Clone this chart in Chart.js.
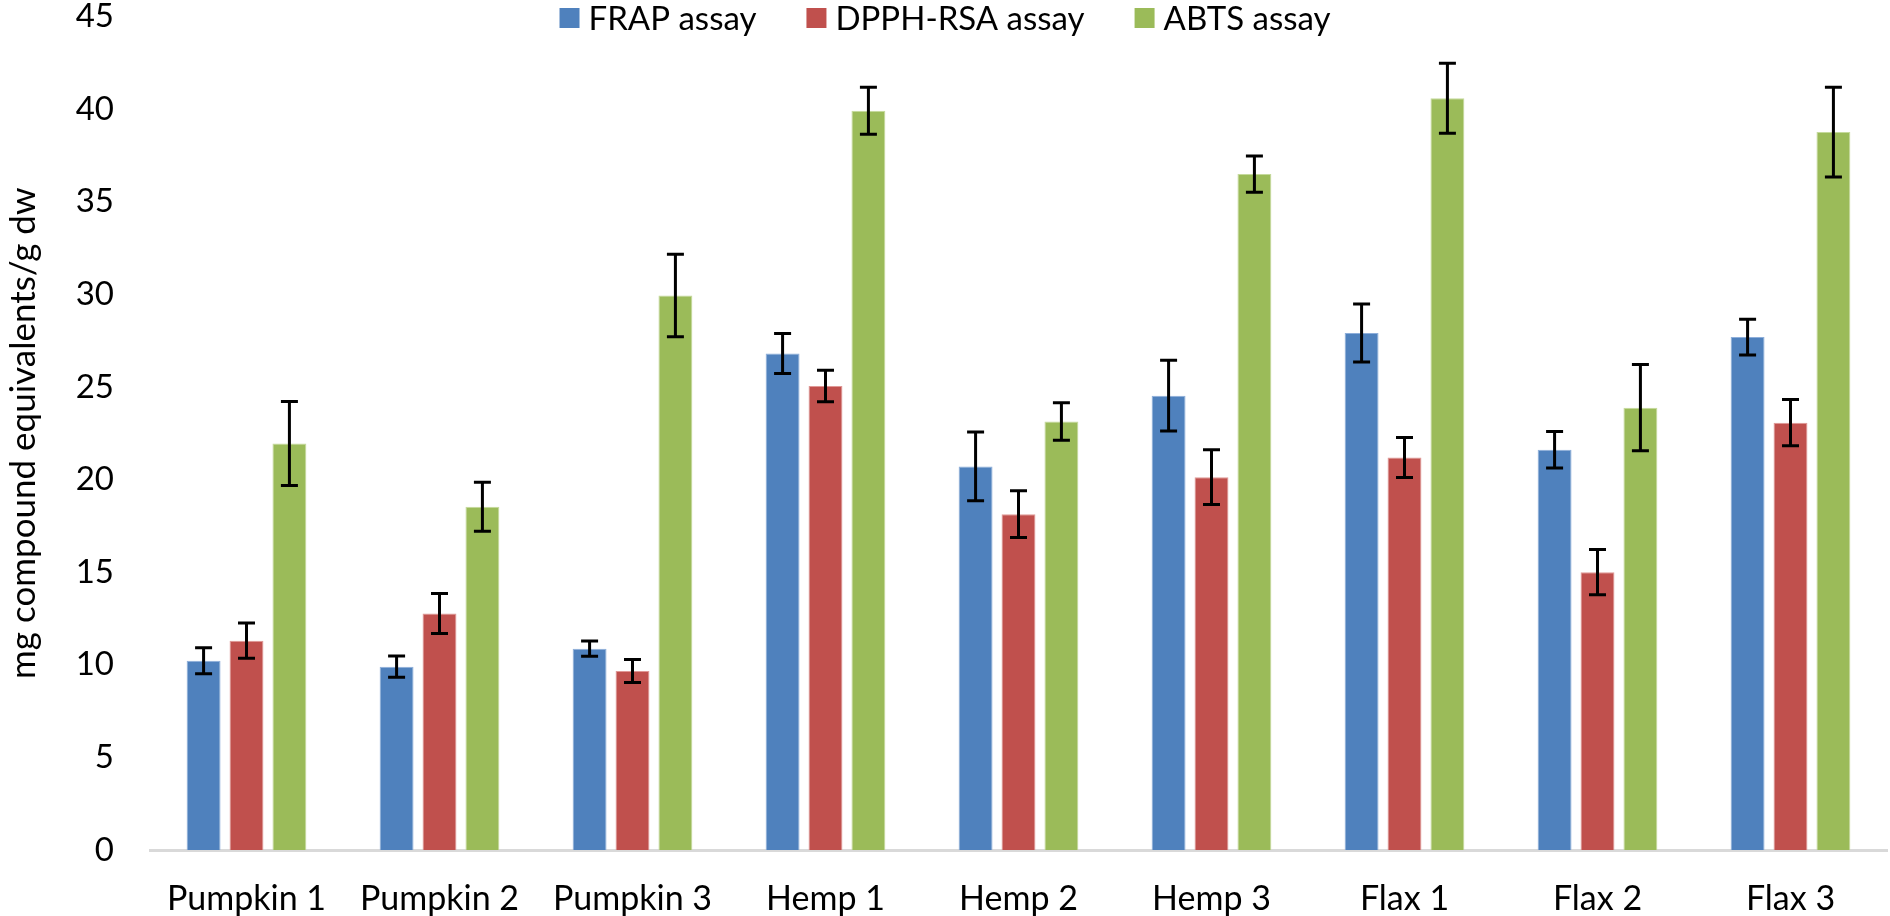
<!DOCTYPE html>
<html>
<head>
<meta charset="utf-8">
<script src="https://cdn.jsdelivr.net/npm/chart.js@4.4.0/dist/chart.umd.min.js"></script>
<style>
  html, body { margin: 0; padding: 0; background: #ffffff; }
  #wrap { width: 1890px; height: 916px; }
</style>
</head>
<body>
<div id="wrap"><canvas id="c" width="1890" height="916"></canvas></div>
<script>
// ---- data ----
const categories = ["Pumpkin 1", "Pumpkin 2", "Pumpkin 3", "Hemp 1", "Hemp 2", "Hemp 3", "Flax 1", "Flax 2", "Flax 3"];
const seriesNames = ["FRAP assay", "DPPH-RSA assay", "ABTS assay"];
const frapValues = [10.22, 9.90, 10.87, 26.81, 20.71, 24.53, 27.91, 21.61, 27.69];
const frapErrors = [0.70, 0.58, 0.41, 1.08, 1.86, 1.91, 1.57, 0.99, 0.96];
const dpphValues = [11.30, 12.77, 9.66, 25.05, 18.13, 20.13, 21.19, 15.00, 23.07];
const dpphErrors = [0.95, 1.08, 0.62, 0.85, 1.26, 1.48, 1.08, 1.22, 1.25];
const abtsValues = [21.95, 18.53, 29.94, 39.91, 23.13, 36.49, 40.59, 23.88, 38.76];
const abtsErrors = [2.27, 1.32, 2.23, 1.27, 1.01, 0.98, 1.89, 2.33, 2.42];
const yTitle = "mg compound equivalents/g dw";
const yMin = 0, yMax = 45, yStep = 5;

const FONT = "Lato, 'Open Sans', 'Liberation Sans', sans-serif";
const errorSets = [frapErrors, dpphErrors, abtsErrors];

const errorBarPlugin = {
  id: 'errorBars',
  afterDatasetsDraw(chart) {
    const ctx = chart.ctx;
    const ys = chart.scales.y;
    chart.data.datasets.forEach((ds, i) => {
      const meta = chart.getDatasetMeta(i);
      const errs = errorSets[i];
      meta.data.forEach((bar, j) => {
        const v = ds.data[j];
        const e = errs[j];
        const top = ys.getPixelForValue(v + e);
        const bot = ys.getPixelForValue(v - e);
        const x = bar.x;
        ctx.save();
        ctx.strokeStyle = '#000000';
        ctx.lineWidth = 3;
        ctx.lineCap = 'butt';
        ctx.beginPath();
        ctx.moveTo(x, top); ctx.lineTo(x, bot);
        ctx.moveTo(x - 8.5, top); ctx.lineTo(x + 8.5, top);
        ctx.moveTo(x - 8.5, bot); ctx.lineTo(x + 8.5, bot);
        ctx.stroke();
        ctx.restore();
      });
    });
  }
};

// Legend drawn over the top of the plot (Excel-style overlay), from the dataset labels/colours
const overlayLegendPlugin = {
  id: 'overlayLegend',
  afterDraw(chart) {
    const ctx = chart.ctx;
    const size = 33, box = 20, gapBoxText = 9, gapItems = 50;
    const centerX = chart.width / 2, midY = 18;
    ctx.save();
    ctx.font = size + 'px ' + FONT;
    ctx.textBaseline = 'middle';
    ctx.textAlign = 'left';
    const items = chart.data.datasets.map(ds => ({
      text: ds.label, color: ds.backgroundColor, w: ctx.measureText(ds.label).width
    }));
    let total = 0;
    items.forEach((it, k) => { total += box + gapBoxText + it.w + (k < items.length - 1 ? gapItems : 0); });
    let x = centerX - total / 2;
    items.forEach(it => {
      ctx.fillStyle = it.color;
      ctx.fillRect(x, midY - box / 2, box, box);
      ctx.fillStyle = '#000000';
      ctx.fillText(it.text, x + box + gapBoxText, midY + 1);
      x += box + gapBoxText + it.w + gapItems;
    });
    ctx.restore();
  }
};

new Chart(document.getElementById('c'), {
  type: 'bar',
  data: {
    labels: categories,
    datasets: [
      { label: seriesNames[0], data: frapValues, backgroundColor: '#4F81BD', borderColor: '#8DAEDA', borderWidth: 1 },
      { label: seriesNames[1], data: dpphValues, backgroundColor: '#C0504D', borderColor: '#E09896', borderWidth: 1 },
      { label: seriesNames[2], data: abtsValues, backgroundColor: '#9BBB59', borderColor: '#C5DA9C', borderWidth: 1 }
    ]
  },
  options: {
    responsive: false,
    animation: false,
    devicePixelRatio: 1,
    layout: { padding: { left: 0, right: 3, top: 0, bottom: 0 } },
    datasets: {
      bar: { categoryPercentage: 0.667, barPercentage: 0.79 }
    },
    plugins: {
      tooltip: { enabled: false },
      legend: { display: false }
    },
    scales: {
      x: {
        grid: { display: false, drawTicks: true, tickLength: 32 },
        border: { display: true, color: '#D9D9D9', width: 3 },
        ticks: {
          color: '#000000',
          font: { family: FONT, size: 34, lineHeight: 1 },
          padding: 0,
          maxRotation: 0,
          autoSkip: false
        },
        afterFit(scale) { scale.height = 66; }
      },
      y: {
        min: yMin,
        max: yMax,
        grid: { display: false, drawTicks: true, tickLength: 36 },
        border: { display: false },
        ticks: {
          stepSize: yStep,
          color: '#000000',
          font: { family: FONT, size: 33, lineHeight: 1 },
          padding: 0
        },
        title: {
          display: true,
          text: yTitle,
          color: '#000000',
          font: { family: FONT, size: 35, lineHeight: 1.2 },
          padding: { top: 3, bottom: 0 }
        },
        afterFit(scale) { scale.width = 150; }
      }
    }
  },
  plugins: [errorBarPlugin, overlayLegendPlugin]
});
</script>
</body>
</html>
